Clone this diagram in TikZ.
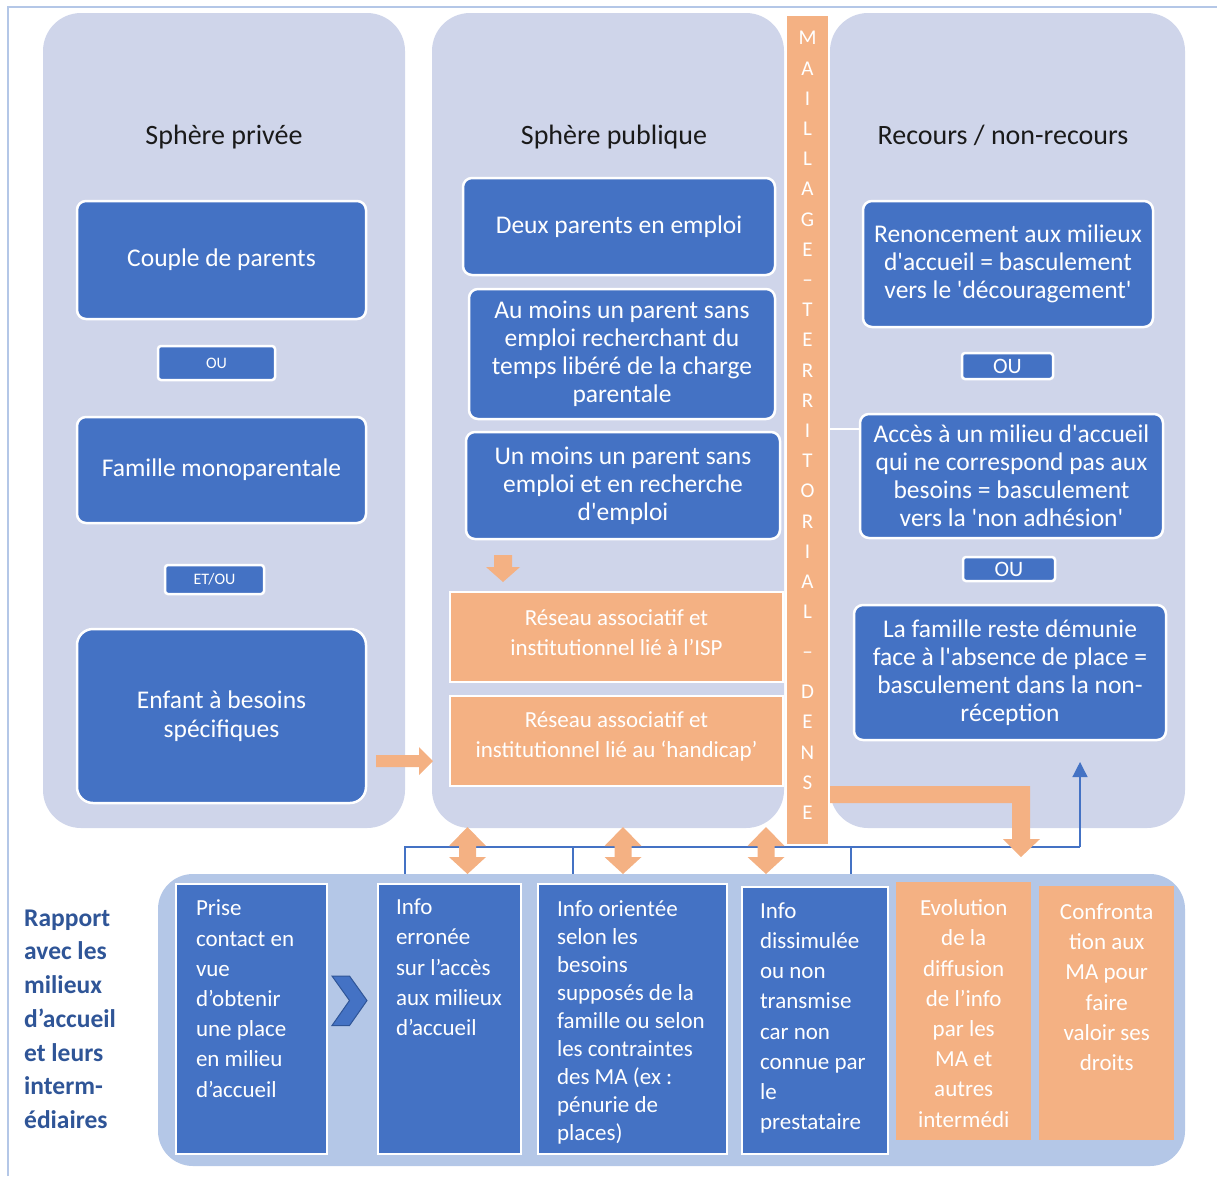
\documentclass[tikz,border=0pt]{standalone}
\usepackage{fontspec}
\newfontfamily\calib{Carlito}
\usetikzlibrary{arrows.meta}
\definecolor{panel}{HTML}{CFD5EA}
\definecolor{boxblue}{HTML}{4472C4}
\definecolor{boxorange}{HTML}{F4B183}
\definecolor{lowpanel}{HTML}{B4C7E7}
\definecolor{frameline}{HTML}{B4C7E7}
\definecolor{labelblue}{HTML}{2F5597}
\definecolor{headtext}{HTML}{1A1A1A}
\newcommand{\fsz}[2]{\fontsize{#1}{#2}\selectfont}
% column text: width, height, top gap, paragraph setup, lines
\newcommand{\coltext}[5]{\begin{minipage}[c][#2pt][t]{#1pt}\vspace*{#3pt}#4#5\par\end{minipage}}
% vertical two-headed block arrow centred on x = #1
\newcommand{\pairarrow}[1]{\fill[boxorange] (#1,827) -- ++(18.5,19) -- ++(-10,0) -- ++(0,11) -- ++(10,0) -- (#1,874) -- ++(-18.5,-17) -- ++(10,0) -- ++(0,-11) -- ++(-10,0) -- cycle;}
\begin{document}
\begin{tikzpicture}[x=1pt, y=-1pt,
  panelbox/.style={fill=panel, rounded corners=38, inner sep=0},
  bluebox/.style={fill=boxblue, draw=white, line width=2.5, rounded corners=9, text=white, align=center, inner sep=0, font=\calib\fsz{25.5}{28}},
  tagbox/.style={fill=boxblue, draw=white, line width=2.5, rounded corners=3, text=white, inner sep=0, font=\calib\fsz{16}{19}},
  netbox/.style={fill=boxorange, draw=white, line width=1.5, inner sep=0},
  nettext/.style={text=white, align=center, inner sep=0, yshift=4.5, font=\calib\fsz{23}{30}},
  colblue/.style={fill=boxblue, draw=white, line width=2, text=white, inner sep=0, anchor=north west, font=\calib\fsz{23}{30.2}},
  colorange/.style={fill=boxorange, text=white, inner sep=0, anchor=north west, font=\calib\fsz{23}{30.2}},
  heading/.style={text=headtext, inner sep=0, font=\calib\fsz{28}{32}},
  link/.style={draw=boxblue, line width=1.3},
  blockarrow/.style={fill=boxorange}]
\useasboundingbox (0,0) rectangle (1217,1176);

% outer frame
\draw[frameline, line width=1.5] (8,1176) -- (8,7) -- (1217,7);

% three spheres
\node[panelbox, minimum width=362, minimum height=815] (pleft) at (224,420.5) {};
\node[panelbox, minimum width=352, minimum height=815] (pmid) at (608,420.5) {};
\node[panelbox, minimum width=355, minimum height=815] (pright) at (1007.5,420.5) {};

\node[heading] (hleft) at (224,137) {Sphère privée};
\node[heading] (hmid) at (614,137) {Sphère publique};
\node[heading] (hright) at (1003,135.5) {Recours / non-recours};

% private sphere
\node[bluebox, minimum width=289, minimum height=118] (couple) at (221.5,260) {Couple de parents};
\node[tagbox, minimum width=117, minimum height=34] (ou1) at (216.5,363) {OU};
\node[bluebox, minimum width=289, minimum height=106] (mono) at (221.5,470) {Famille monoparentale};
\node[tagbox, minimum width=99, minimum height=29] (etou) at (214.5,579.5) {ET/OU};
\node[bluebox, rounded corners=16, minimum width=289, minimum height=174] (enfant) at (221.5,716) {Enfant à besoins\\[1pt]spécifiques};

% public sphere
\node[bluebox, minimum width=312, minimum height=97] (deux) at (619,226.5) {Deux parents en emploi};
\node[bluebox, minimum width=306, minimum height=130] (aumoins) at (622,354) {Au moins un parent sans\\emploi recherchant du\\temps libéré de la charge\\parentale};
\node[bluebox, minimum width=314, minimum height=107] (unmoins) at (623,485.5) {Un moins un parent sans\\emploi et en recherche\\d'emploi};
\node[netbox, minimum width=333, minimum height=90,
  label={[nettext]center:Réseau associatif et\\institutionnel lié à l’ISP}] (isp) at (616.5,637) {};
\node[netbox, minimum width=333, minimum height=90,
  label={[nettext]center:Réseau associatif et\\institutionnel lié au ‘handicap’}] (handi) at (616.5,741) {};

% recourse side
\node[bluebox, minimum width=290, minimum height=126] (renon) at (1008,264) {Renoncement aux milieux\\d'accueil = basculement\\vers le 'découragement'};
\node[tagbox, minimum width=91, minimum height=26, font=\calib\fsz{22}{24}] (ou2) at (1007.5,366) {OU};
\node[bluebox, minimum width=303, minimum height=124] (acces) at (1011.5,476) {Accès à un milieu d'accueil\\qui ne correspond pas aux\\besoins = basculement\\vers la 'non adhésion'};
\node[tagbox, minimum width=92, minimum height=24, font=\calib\fsz{22}{24}] (ou3) at (1009,569) {OU};
\node[bluebox, minimum width=312, minimum height=135] (famille) at (1010,672.5) {La famille reste démunie\\face à l'absence de place =\\basculement dans la non-\\réception};

% block arrows inside the spheres
\fill[blockarrow] (376,755) -- (419,755) -- (419,747) -- (433,761) -- (419,775) -- (419,767) -- (376,767) -- cycle;
\fill[blockarrow] (494,555) -- (512,555) -- (512,567) -- (520,567) -- (503,582) -- (486,567) -- (494,567) -- cycle;

% lower band
\node[fill=lowpanel, rounded corners=35, inner sep=0, minimum width=1027, minimum height=292] (low) at (671.5,1020) {};

% connector tree above the lower band
\coordinate (d1) at (405,847);
\coordinate (d2) at (573,847);
\coordinate (d3) at (851,847);
\coordinate (hr) at (1080,847);
\coordinate (uptip) at (1080,762);
\draw[link] (d1 |- low.north) -- (d1) -- (hr);
\draw[link] (d2) -- (d2 |- low.north);
\draw[link] (d3) -- (d3 |- low.north);
\draw[link, -{Triangle[width=15pt,length=15pt]}] (hr) -- (uptip);

% two-way exchanges between the public sphere and the band
\pairarrow{467.5}
\pairarrow{623}
\pairarrow{766}

% bent arrow from the network bar to the band
\fill[blockarrow] (826,786) -- (1030,786) -- (1030,839) -- (1040,839) -- (1021,857) -- (1003,839) -- (1012,839) -- (1012,803) -- (826,803) -- cycle;

% network bar
\node[fill=boxorange, draw=white, line width=1.5, inner sep=0, minimum width=43, minimum height=830] (bar) at (807.5,430) {};
\node[text=white, align=center, inner sep=0, font=\calib\fsz{21}{30.2}] (bartext) at (807.5,425.5)
  {M\\A\\I\\L\\L\\A\\G\\E\\–\\T\\E\\R\\R\\I\\T\\O\\R\\I\\A\\L\\[9.8pt]–\\[9.8pt]D\\E\\N\\S\\E};
\draw[white, line width=2.5] (bar.east |- 0,429) -- (acces.west |- 0,429);

% band label
\node[anchor=north west, align=left, text=labelblue, inner sep=0, font=\calib\bfseries\fsz{25.5}{33.7}] (rapport) at (24,909.5)
  {Rapport\\avec les\\milieux\\d’accueil\\et leurs\\interm-\\édiaires};

% band steps
\node[colblue] (b1) at (175,883) {\coltext{151}{270}{16}{\raggedright\leftskip=20pt}{Prise\\contact en\\vue\\d’obtenir\\une place\\en milieu\\d’accueil}};
\fill[boxblue, draw=labelblue, line width=1] (332,976) -- (349.5,976) -- (367,1000.5) -- (349.5,1025.5) -- (332,1025.5) -- (349.5,1000.5) -- cycle;
\node[colblue] (b2) at (377,883) {\coltext{143}{270}{15}{\raggedright\leftskip=18pt}{Info\\erronée\\sur l’accès\\aux milieux\\d’accueil}};
\node[colblue] (b3) at (537,883) {\coltext{189}{270}{16.5}{\raggedright\leftskip=19pt\fsz{23}{28}}{Info orientée\\selon les\\besoins\\supposés de la\\famille ou selon\\les contraintes\\des MA (ex :\\pénurie de\\places)}};
\node[colblue] (b4) at (741,886) {\coltext{146}{267}{15.5}{\raggedright\leftskip=18pt}{Info\\dissimulée\\ou non\\transmise\\car non\\connue par\\le\\prestataire}};
\node[colorange] (b5) at (896,882) {\coltext{135}{258}{17.5}{\centering}{Evolution\\de la\\diffusion\\de l’info\\par les\\MA et\\autres\\intermédi}};
\node[colorange] (b6) at (1039,886) {\coltext{135}{254}{17.5}{\centering}{Confronta\\tion aux\\MA pour\\faire\\valoir ses\\droits}};
\end{tikzpicture}
\end{document}
